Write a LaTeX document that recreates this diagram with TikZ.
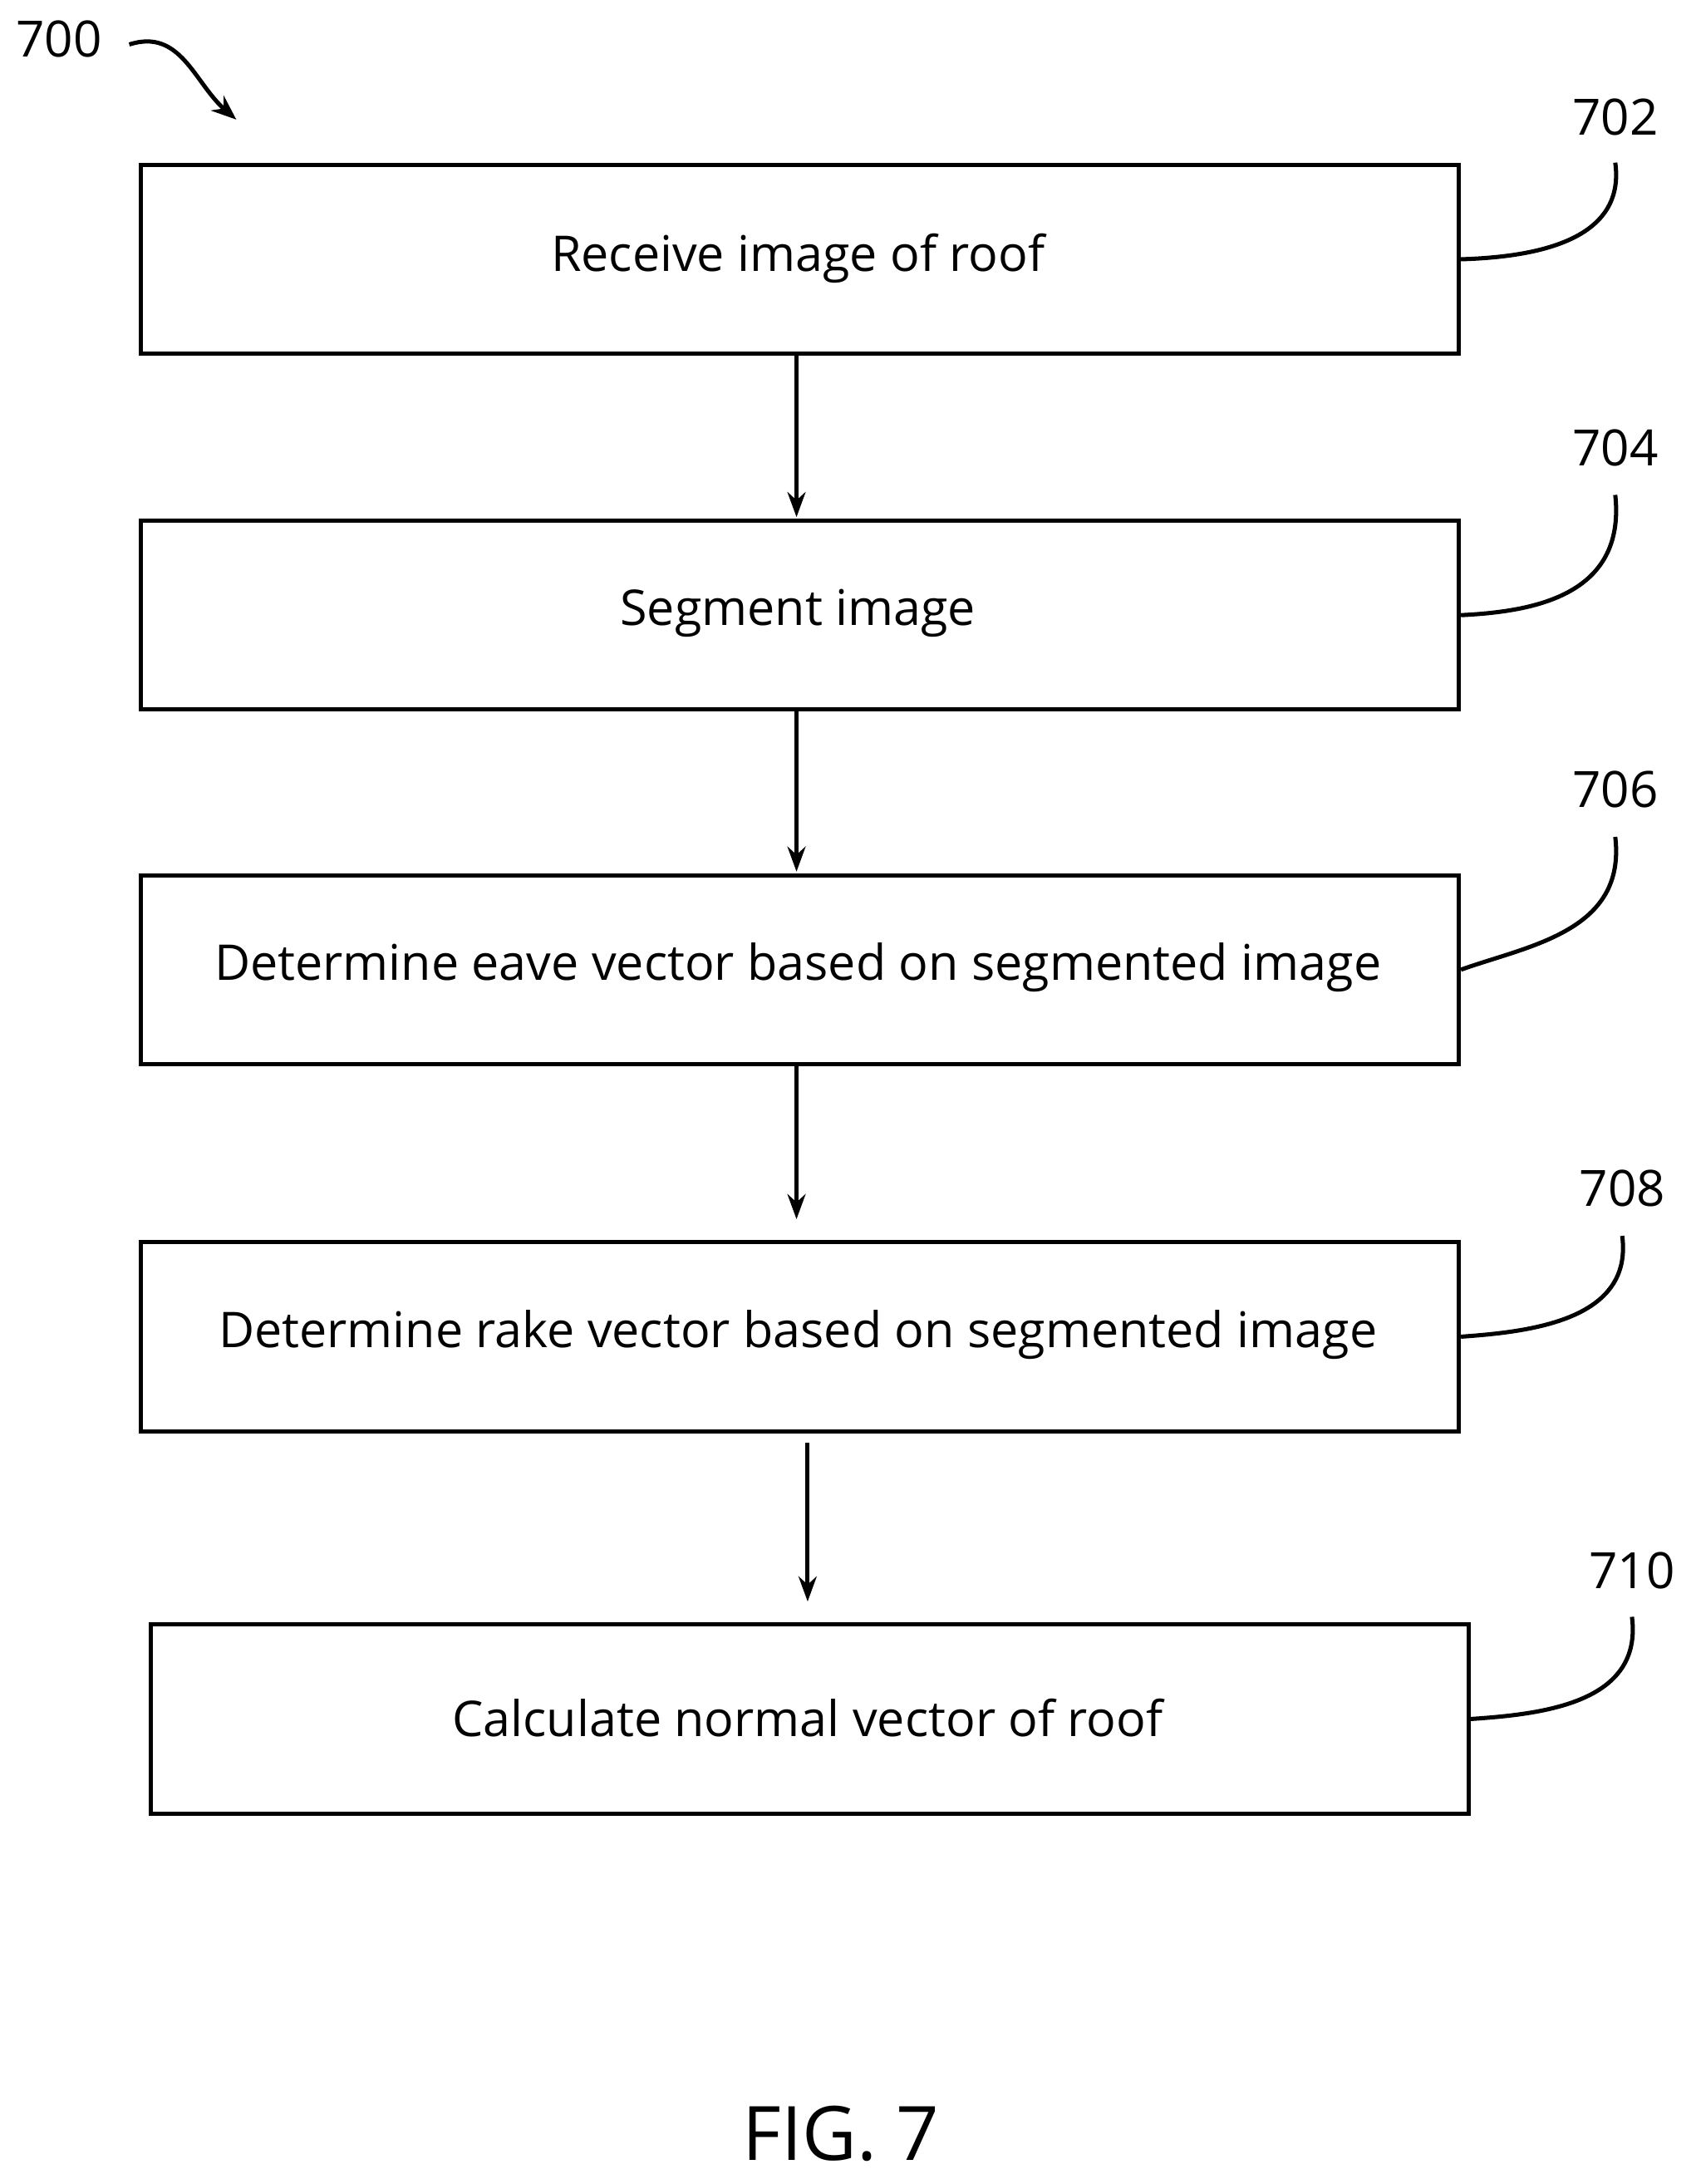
\documentclass[tikz,border=0pt]{standalone}
\usepackage{fontspec}
\setmainfont{Open Sans}
\usetikzlibrary{arrows.meta}
\begin{document}
\begin{tikzpicture}[x=1pt,y=-1pt,
  box/.style={draw,line width=3pt,minimum width=948pt,minimum height=136pt,anchor=north west},
  txt/.style={font=\fontsize{35.4}{42}\selectfont},
  arr/.style={line width=3pt,-{Stealth[length=18pt,width=13pt]}},
  lead/.style={line width=3pt},
  lab/.style={font=\fontsize{36}{42}\selectfont}]
\useasboundingbox (0,0) rectangle (1220,1571);
\node[box] (b1) at (100,117) {};
\node[txt] (t1) at (574,186) {Receive image of roof};
\node[box] (b2) at (100,373) {};
\node[txt] (t2) at (574,441) {Segment image};
\node[box] (b3) at (100,628) {};
\node[txt] (t3) at (574,696) {Determine eave vector based on segmented image};
\node[box] (b4) at (100,892) {};
\node[txt] (t4) at (574,960) {Determine rake vector based on segmented image};
\node[box] (b5) at (107,1167) {};
\node[txt] (t5) at (581,1236) {Calculate normal vector of roof};
\coordinate (a1s) at (573,253); \coordinate (a1e) at (573,372);
\coordinate (a2s) at (573,509); \coordinate (a2e) at (573,627);
\coordinate (a3s) at (573,764); \coordinate (a3e) at (573,877);
\coordinate (a4s) at (581,1038); \coordinate (a4e) at (581,1152);
\draw[arr] (a1s) -- (a1e);
\draw[arr] (a2s) -- (a2e);
\draw[arr] (a3s) -- (a3e);
\draw[arr] (a4s) -- (a4e);
\node[lab] (l702) at (1162,84) {702};
\node[lab] (l704) at (1162,322) {704};
\node[lab] (l706) at (1162,568) {706};
\node[lab] (l708) at (1167,855) {708};
\node[lab] (l710) at (1174,1130) {710};
\draw[lead] (b1.east) .. controls (1100,185) and (1170,175) .. (1162,117);
\draw[lead] (b2.east) .. controls (1100,440) and (1170,430) .. (1162,356);
\draw[lead] (b3.east) .. controls (1100,680) and (1170,670) .. (1162,602);
\draw[lead] (b4.east) .. controls (1100,958) and (1175,950) .. (1167,889);
\draw[lead] (b5.east) .. controls (1110,1233) and (1182,1225) .. (1174,1163);
\node[lab,anchor=west] (l700) at (8,28) {700};
\coordinate (c700) at (93,32);
\draw[line width=3pt,-{Stealth[length=18pt,width=14pt]}] (c700) .. controls (130,20) and (140,60) .. (170,86);
\node[font=\fontsize{54}{64}\selectfont] (fig) at (605,1535) {FIG. 7};
\end{tikzpicture}
\end{document}
